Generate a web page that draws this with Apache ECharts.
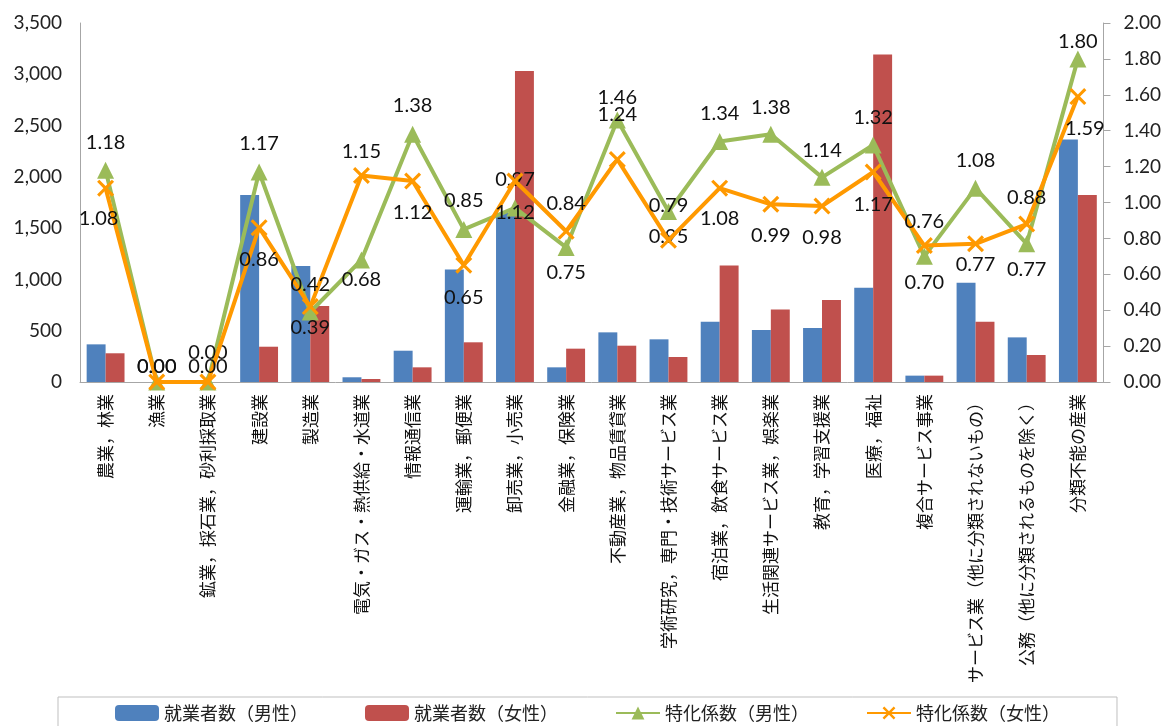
<!DOCTYPE html>
<html>
<head>
<meta charset="utf-8">
<script src="https://cdn.jsdelivr.net/npm/echarts@6/dist/echarts.min.js"></script>
<style>
html,body{margin:0;padding:0;background:#fff;}
#chart{width:1164px;height:726px;}
</style>
</head>
<body>
<div id="chart"></div>
<script>
const categories = [
  '農業，林業','漁業','鉱業，採石業，砂利採取業','建設業','製造業',
  '電気・ガス・熱供給・水道業','情報通信業','運輸業，郵便業','卸売業，小売業','金融業，保険業',
  '不動産業，物品賃貸業','学術研究，専門・技術サービス業','宿泊業，飲食サービス業','生活関連サービス業，娯楽業','教育，学習支援業',
  '医療，福祉','複合サービス事業','サービス業（他に分類されないもの）','公務（他に分類されるものを除く）','分類不能の産業'
];
const seriesNames = ['就業者数（男性）','就業者数（女性）','特化係数（男性）','特化係数（女性）'];
const workersMale   = [367, 0, 0, 1823, 1131, 46, 305, 1098, 1647, 143, 484, 416, 588, 507, 526, 919, 62, 968, 435, 2365];
const workersFemale = [280, 0, 0, 344, 741, 29, 143, 387, 3031, 325, 354, 244, 1137, 708, 799, 3194, 62, 588, 263, 1823];
const coefMale   = [1.18, 0.00, 0.00, 1.17, 0.39, 0.68, 1.38, 0.85, 0.97, 0.75, 1.46, 0.95, 1.34, 1.38, 1.14, 1.32, 0.70, 1.08, 0.77, 1.80];
const coefFemale = [1.08, 0.00, 0.00, 0.86, 0.42, 1.15, 1.12, 0.65, 1.12, 0.84, 1.24, 0.79, 1.08, 0.99, 0.98, 1.17, 0.76, 0.77, 0.88, 1.59];
const leftTicks  = {min: 0, max: 3500, interval: 500};
const rightTicks = {min: 0, max: 2, interval: 0.2};

// label placement (style only): vertical / horizontal offsets of each data label
const maleLabelDy   = [-28,-15,-29,-28,16,20,-29,-29,-28,25,-22,25,-28,-27,-27,-28,26,-28,26,-17];
const femaleLabelDy = [30,-15,-15,32,-22,-24,32,32,32,-28,-45,-35,30,31,31,33,-24,21,-26,32];
const femaleLabelDx = [-7,0,0,0,0,0,0,0,0,0,0,0,0,0,0,0,0,0,0,7];

const numFont = 'Lato, "Noto Sans", sans-serif';
const cjkFont = '"Noto Sans CJK JP", sans-serif';
const xMark = 'path://M0,1.3L1.3,0L5,3.7L8.7,0L10,1.3L6.3,5L10,8.7L8.7,10L5,6.3L1.3,10L0,8.7L3.7,5Z';

function lineData(vals, dys, dxs){
  return vals.map((v,i)=>({
    value: v,
    label: {offset: [dxs ? dxs[i] : 0, dys[i]]}
  }));
}

const chart = echarts.init(document.getElementById('chart'), null, {renderer:'canvas'});
chart.setOption({
  animation: false,
  backgroundColor: '#fff',
  grid: {left: 80, right: 59, top: 23, bottom: 344, containLabel: false},
  legend: {
    data: seriesNames,
    top: 697, left: 58,
    padding: [7, 57, 20, 57],
    borderColor: '#BFBFBF', borderWidth: 1,
    itemGap: 57, itemWidth: 44, itemHeight: 16,
    textStyle: {fontFamily: cjkFont, fontSize: 18, color: '#222'}
  },
  xAxis: {
    type: 'category',
    data: categories,
    axisLine: {lineStyle: {color: '#A6A6A6', width: 1}},
    axisTick: {show: false},
    axisLabel: {
      rotate: 90, interval: 0, margin: 12,
      fontFamily: cjkFont, fontSize: 17, color: '#111'
    }
  },
  yAxis: [
    {
      type: 'value', min: leftTicks.min, max: leftTicks.max, interval: leftTicks.interval,
      splitLine: {show: false},
      axisLine: {show: true, lineStyle: {color: '#A6A6A6'}},
      axisTick: {show: false},
      axisLabel: {
        margin: 18, fontFamily: numFont, fontSize: 19, color: '#222',
        formatter: v => v.toLocaleString('en-US')
      }
    },
    {
      type: 'value', min: rightTicks.min, max: rightTicks.max, interval: rightTicks.interval,
      position: 'right',
      splitLine: {show: false},
      axisLine: {show: true, lineStyle: {color: '#A6A6A6'}},
      axisTick: {show: true, length: 7, lineStyle: {color: '#A6A6A6'}},
      axisLabel: {
        margin: 20, fontFamily: numFont, fontSize: 19, color: '#222',
        formatter: v => v.toFixed(2)
      }
    }
  ],
  series: [
    {
      name: seriesNames[0], type: 'bar', data: workersMale, yAxisIndex: 0,
      barGap: '0%', barCategoryGap: '26%',
      itemStyle: {color: '#4F81BD'}
    },
    {
      name: seriesNames[1], type: 'bar', data: workersFemale, yAxisIndex: 0,
      barGap: '0%', barCategoryGap: '26%',
      itemStyle: {color: '#C0504D'}
    },
    {
      name: seriesNames[2], type: 'line', yAxisIndex: 1,
      data: lineData(coefMale, maleLabelDy),
      symbol: 'triangle', symbolSize: 17,
      lineStyle: {color: '#9BBB59', width: 4},
      itemStyle: {color: '#9BBB59'},
      label: {show: true, position: 'inside', fontFamily: numFont, fontSize: 20, color: '#111',
        formatter: p => p.value.toFixed(2)},
      z: 3
    },
    {
      name: seriesNames[3], type: 'line', yAxisIndex: 1,
      data: lineData(coefFemale, femaleLabelDy, femaleLabelDx),
      symbol: xMark, symbolSize: 17,
      lineStyle: {color: '#FF9900', width: 4},
      itemStyle: {color: '#FF9900'},
      label: {show: true, position: 'inside', fontFamily: numFont, fontSize: 20, color: '#111',
        formatter: p => p.value.toFixed(2)},
      z: 4
    }
  ]
});
</script>
</body>
</html>
